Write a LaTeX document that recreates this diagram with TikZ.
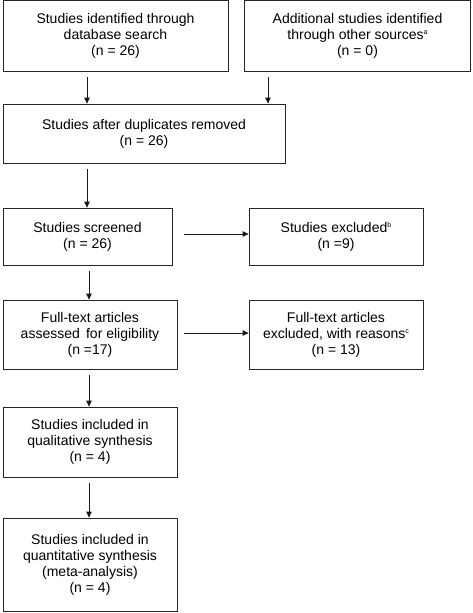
\documentclass[tikz,border=0pt]{standalone}
\usepackage{fontspec}
\setmainfont{Liberation Sans}
\usetikzlibrary{arrows.meta}
\newcommand{\supr}[1]{\raisebox{4.5pt}{\fontsize{7}{7}\selectfont #1}}
\tikzset{
  box/.style={draw=black!85, line width=0.8pt, align=center, inner sep=0pt,
    font=\fontsize{14}{16}\selectfont},
  arr/.style={draw=black!90, line width=0.8pt, -{Triangle[length=6pt,width=5.5pt]}}
}
\begin{document}
\begin{tikzpicture}[x=1pt,y=1pt]
\useasboundingbox (0,0) rectangle (472,-613);
\node[box, minimum width=225, minimum height=71] (a) at (115.5,-35.5)
  {Studies identified through\\database search\\(n = 26)};
\node[box, minimum width=226, minimum height=71] (b) at (357.5,-35.5)
  {Additional studies identified\\through other sources\supr{a}\\(n = 0)};
\node[box, minimum width=282, minimum height=59] (c) at (144,-133.5)
  {Studies after duplicates removed\\(n = 26)};
\node[box, minimum width=169, minimum height=57] (d) at (87.5,-236.5)
  {Studies screened\\(n = 26)};
\node[box, minimum width=174, minimum height=57] (e) at (336,-236.5)
  {Studies excluded\supr{b}\\(n =9)};
\node[box, minimum width=174, minimum height=69] (f) at (90,-334.5)
  {Full-text articles\\assessed\, for eligibility\\(n =17)};
\node[box, minimum width=174, minimum height=69] (g) at (336,-334.5)
  {Full-text articles\\excluded, with reasons\supr{c}\\(n = 13)};
\node[box, minimum width=174, minimum height=70] (h) at (90,-442)
  {Studies included in\\qualitative synthesis\\(n = 4)};
\node[box, minimum width=174, minimum height=93] (i) at (90,-564.5)
  {Studies included in\\quantitative synthesis\\(meta-analysis)\\(n = 4)};
% connectors
\draw[arr, shorten <=6pt] ([xshift=-28.5]a.south) -- ([xshift=-57]c.north);
\draw[arr, shorten <=6pt] ([xshift=-89.5]b.south) -- ([xshift=124]c.north);
\draw[arr, shorten <=6pt] ([xshift=-57]c.south) -- ([xshift=-0.5]d.north);
\draw[arr, shorten <=12pt] ([yshift=2.5]d.east) -- ([yshift=2.5]e.west);
\draw[arr, shorten <=6pt] ([xshift=1.5]d.south) -- ([xshift=-1]f.north);
\draw[arr, shorten <=7pt] ([yshift=1.5]f.east) -- ([yshift=1.5]g.west);
\draw[arr, shorten <=6pt] ([xshift=-1]f.south) -- ([xshift=-1]h.north);
\draw[arr, shorten <=6pt] ([xshift=-1]h.south) -- ([xshift=-1]i.north);
\end{tikzpicture}
\end{document}
